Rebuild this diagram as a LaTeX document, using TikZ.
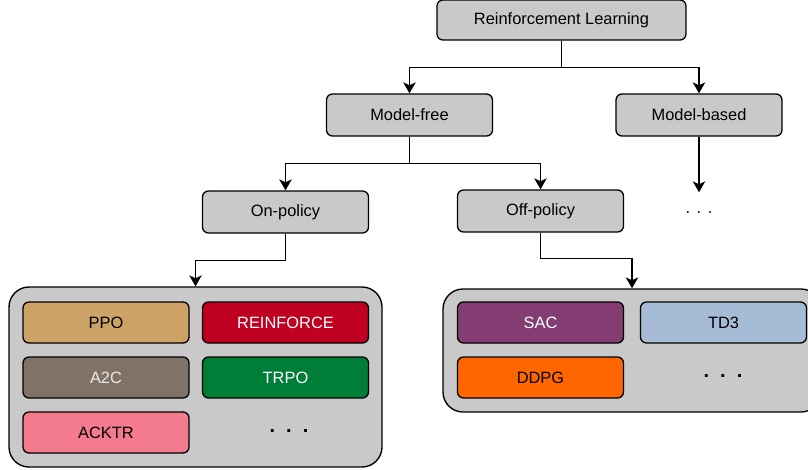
\documentclass[tikz,border=0pt]{standalone}
\usepackage{fontspec}
\setmainfont{Liberation Sans}
\usetikzlibrary{arrows.meta, positioning}
\definecolor{grey1}{HTML}{C9C9C9}
\definecolor{ppo1}{HTML}{CDA266}
\definecolor{rein1}{HTML}{C00020}
\definecolor{atwoc1}{HTML}{807267}
\definecolor{trpo1}{HTML}{007D37}
\definecolor{acktr1}{HTML}{F47A8E}
\definecolor{sac1}{HTML}{833D73}
\definecolor{tdthree1}{HTML}{A6BCD6}
\definecolor{ddpg1}{HTML}{FF6600}

\begin{document}
\begin{tikzpicture}[x=1pt,y=-1pt,line width=1.35pt,
                    font=\fontsize{16.4}{19}\selectfont]
  \tikzstyle{box}=[rectangle,fill=grey1,draw=black,rounded corners=6pt,minimum width=166pt,minimum height=42pt,inner sep=0pt]
  \tikzstyle{algo}=[box,minimum height=41pt]
  \tikzstyle{group}=[rectangle,fill=grey1,draw=black,rounded corners=20pt,inner sep=0pt]
  \tikzstyle{arr}=[-{Stealth[length=11pt,width=12.5pt,inset=3pt]}]
  \tikzstyle{more}=[font=\fontsize{20}{20}\selectfont\bfseries]
  \useasboundingbox (0,0) rectangle (808,469);
  \node[box,minimum width=249pt,minimum height=40pt] (RL) at (561.5,20) {Reinforcement Learning};
  \node[box]          (MF) at (409.5,115)     {Model-free};
  \node[box]          (MB) at (699,115)       {Model-based};
  \node[box]          (ON) at (285.5,212)     {On-policy};
  \node[box]          (OFF) at (540.5,211)    {Off-policy};
  \node[minimum height=40pt,inner sep=0pt] (MBmore) at (699,213) {.\hspace{6.5pt}.\hspace{6.5pt}.};
  \node[group,minimum width=373pt,minimum height=180pt] (ONG) at (195.5,377) {};
  \node[group,minimum width=378pt,minimum height=123pt] (OFFG) at (632,350.5) {};
  \node[algo,fill=ppo1]                  (PPO) at (106,322.5)    {PPO};
  \node[algo,fill=rein1,text=white]      (REIN) at (285.5,322.5) {REINFORCE};
  \node[algo,fill=atwoc1,text=white!92!black] (A2C) at (106,377.5) {A2C};
  \node[algo,fill=trpo1,text=white]      (TRPO) at (285.5,377.5) {TRPO};
  \node[algo,fill=acktr1]                (ACKTR) at (106,432.5)  {ACKTR};
  \node[more]                            (ONmore) at (289,431)   {.\hspace{11pt}.\hspace{11pt}.};
  \node[algo,fill=sac1,text=white]       (SAC) at (540.5,322.5)  {SAC};
  \node[algo,fill=tdthree1]              (TD3) at (723.5,322.5)  {TD3};
  \node[algo,fill=ddpg1]                 (DDPG) at (540.5,377.5) {DDPG};
  \node[more]                            (OFFmore) at (723,376)  {.\hspace{11pt}.\hspace{11pt}.};
  \draw[arr] (RL.south) -- ++(0,27) -| (MF.north);
  \draw[arr] (RL.south) -- ++(0,27) -| (MB.north);
  \draw[arr] (MF.south) -- ++(0,27) -| (ON.north);
  \draw[arr] (MF.south) -- ++(0,27) -| (OFF.north);
  \draw[arr] (MB.south) -- (MBmore.north);
  \draw[arr] (ON.south) -- ++(0,27) -| (ONG.north);
  \draw[arr] (OFF.south) -- ++(0,26) -| (OFFG.north);
\end{tikzpicture}
\end{document}
